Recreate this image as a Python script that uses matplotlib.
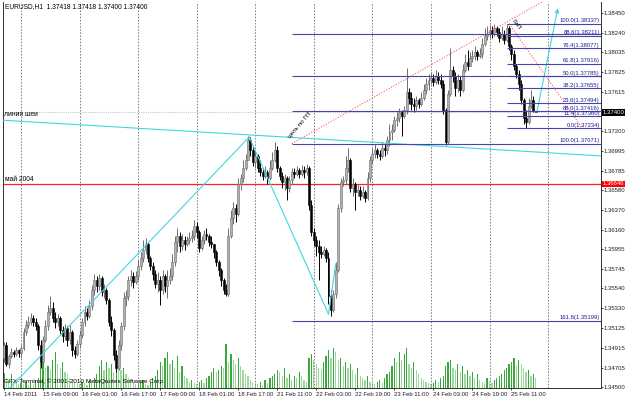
import matplotlib.pyplot as plt
import matplotlib.transforms as mtransforms

plt.rcParams['font.family'] = ['Liberation Sans', 'DejaVu Sans']

# EURUSD H1 candles (open of each bar = close of the bar before)
first_open = 1.3481
close = [1.3494, 1.3474, 1.3483, 1.3487, 1.3485, 1.3489, 1.3486, 1.3491, 1.3508, 1.3515,
         1.3519, 1.3523, 1.3519, 1.3514, 1.3494, 1.3476, 1.3500, 1.3514, 1.3529, 1.3533,
         1.3523, 1.3519, 1.3523, 1.3510, 1.3504, 1.3512, 1.3500, 1.3508, 1.3489, 1.3485,
         1.3495, 1.3505, 1.3519, 1.3529, 1.3525, 1.3536, 1.3552, 1.3563, 1.3557, 1.3565,
         1.3550, 1.3552, 1.3542, 1.3519, 1.3510, 1.3484, 1.3470, 1.3494, 1.3514, 1.3544,
         1.3546, 1.3563, 1.3567, 1.3561, 1.3567, 1.3578, 1.3586, 1.3595, 1.3601, 1.3586,
         1.3578, 1.3569, 1.3559, 1.3563, 1.3552, 1.3567, 1.3557, 1.3563, 1.3567, 1.3582,
         1.3603, 1.3609, 1.3599, 1.3605, 1.3601, 1.3605, 1.3607, 1.3609, 1.3620, 1.3614,
         1.3597, 1.3605, 1.3612, 1.3609, 1.3603, 1.3601, 1.3593, 1.3582, 1.3574, 1.3563,
         1.3552, 1.3548, 1.3609, 1.3628, 1.3639, 1.3633, 1.3664, 1.3671, 1.3681, 1.3690,
         1.3711, 1.3700, 1.3688, 1.3694, 1.3681, 1.3677, 1.3673, 1.3677, 1.3671, 1.3681,
         1.3690, 1.3700, 1.3681, 1.3673, 1.3666, 1.3671, 1.3660, 1.3669, 1.3677, 1.3675,
         1.3679, 1.3675, 1.3679, 1.3677, 1.3681, 1.3642, 1.3614, 1.3605, 1.3599, 1.3593,
         1.3590, 1.3595, 1.3586, 1.3546, 1.3531, 1.3548, 1.3574, 1.3639, 1.3666, 1.3669,
         1.3681, 1.3690, 1.3660, 1.3664, 1.3656, 1.3658, 1.3652, 1.3656, 1.3650, 1.3671,
         1.3690, 1.3696, 1.3700, 1.3696, 1.3694, 1.3702, 1.3700, 1.3711, 1.3719, 1.3721,
         1.3732, 1.3734, 1.3740, 1.3736, 1.3743, 1.3762, 1.3755, 1.3749, 1.3747, 1.3753,
         1.3749, 1.3755, 1.3764, 1.3770, 1.3774, 1.3776, 1.3772, 1.3778, 1.3774, 1.3770,
         1.3743, 1.3709, 1.3759, 1.3785, 1.3778, 1.3766, 1.3774, 1.3764, 1.3785, 1.3793,
         1.3789, 1.3797, 1.3800, 1.3804, 1.3800, 1.3802, 1.3812, 1.3821, 1.3823, 1.3827,
         1.3823, 1.3829, 1.3825, 1.3819, 1.3823, 1.3816, 1.3829, 1.3810, 1.3802, 1.3789,
         1.3781, 1.3770, 1.3753, 1.3734, 1.3730, 1.3747, 1.3753, 1.37418, 1.37400]
high = [1.3497, 1.3497, 1.3485, 1.3491, 1.3489, 1.3492, 1.3490, 1.3494, 1.3512, 1.3521,
        1.3525, 1.3528, 1.3526, 1.3523, 1.3517, 1.3500, 1.3504, 1.3521, 1.3537, 1.3546,
        1.3540, 1.3529, 1.3527, 1.3525, 1.3514, 1.3517, 1.3514, 1.3515, 1.3510, 1.3493,
        1.3500, 1.3510, 1.3523, 1.3536, 1.3533, 1.3542, 1.3558, 1.3569, 1.3567, 1.3569,
        1.3567, 1.3559, 1.3555, 1.3544, 1.3525, 1.3512, 1.3489, 1.3500, 1.3519, 1.3550,
        1.3552, 1.3567, 1.3574, 1.3571, 1.3572, 1.3584, 1.3593, 1.3605, 1.3607, 1.3603,
        1.3588, 1.3582, 1.3574, 1.3571, 1.3567, 1.3574, 1.3569, 1.3574, 1.3576, 1.3590,
        1.3609, 1.3618, 1.3614, 1.3612, 1.3609, 1.3609, 1.3614, 1.3616, 1.3626, 1.3624,
        1.3616, 1.3609, 1.3616, 1.3618, 1.3612, 1.3609, 1.3601, 1.3595, 1.3584, 1.3576,
        1.3565, 1.3559, 1.3618, 1.3637, 1.3645, 1.3643, 1.3671, 1.3675, 1.3690, 1.3696,
        1.3715, 1.3714, 1.3704, 1.3700, 1.3696, 1.3690, 1.3681, 1.3683, 1.3679, 1.3690,
        1.3698, 1.3709, 1.3704, 1.3683, 1.3677, 1.3675, 1.3673, 1.3673, 1.3681, 1.3681,
        1.3683, 1.3681, 1.3684, 1.3683, 1.3685, 1.3683, 1.3647, 1.3618, 1.3609, 1.3605,
        1.3599, 1.3599, 1.3597, 1.3593, 1.3552, 1.3552, 1.3582, 1.3643, 1.3671, 1.3673,
        1.3694, 1.3702, 1.3692, 1.3671, 1.3666, 1.3664, 1.3662, 1.3662, 1.3658, 1.3677,
        1.3694, 1.3702, 1.3707, 1.3702, 1.3700, 1.3709, 1.3707, 1.3715, 1.3728, 1.3728,
        1.3736, 1.3740, 1.3745, 1.3743, 1.3747, 1.3787, 1.3766, 1.3762, 1.3755, 1.3757,
        1.3755, 1.3762, 1.3770, 1.3776, 1.3781, 1.3783, 1.3781, 1.3785, 1.3783, 1.3781,
        1.3774, 1.3745, 1.3764, 1.3808, 1.3789, 1.3783, 1.3781, 1.3778, 1.3791, 1.3802,
        1.3806, 1.3804, 1.3806, 1.3810, 1.3806, 1.3808, 1.3819, 1.3829, 1.3831, 1.3832,
        1.3831, 1.3833, 1.3831, 1.3829, 1.3831, 1.3827, 1.38337, 1.3831, 1.3812, 1.3806,
        1.3791, 1.3785, 1.3774, 1.3755, 1.3743, 1.3755, 1.3764, 1.3757, 1.37418]
low = [1.3476, 1.3472, 1.3470, 1.3481, 1.3482, 1.3483, 1.3482, 1.3481, 1.3489, 1.3505,
       1.3512, 1.3515, 1.3514, 1.3510, 1.3489, 1.3470, 1.3474, 1.3497, 1.3510, 1.3526,
       1.3519, 1.3512, 1.3514, 1.3506, 1.3497, 1.3500, 1.3493, 1.3495, 1.3483, 1.3481,
       1.3483, 1.3491, 1.3502, 1.3514, 1.3521, 1.3523, 1.3531, 1.3547, 1.3550, 1.3552,
       1.3546, 1.3544, 1.3538, 1.3514, 1.3504, 1.3478, 1.3466, 1.3468, 1.3489, 1.3510,
       1.3536, 1.3542, 1.3557, 1.3555, 1.3559, 1.3563, 1.3574, 1.3582, 1.3590, 1.3582,
       1.3574, 1.3563, 1.3555, 1.3550, 1.3537, 1.3548, 1.3550, 1.3544, 1.3559, 1.3563,
       1.3578, 1.3593, 1.3593, 1.3595, 1.3595, 1.3599, 1.3601, 1.3603, 1.3605, 1.3607,
       1.3593, 1.3595, 1.3601, 1.3605, 1.3599, 1.3597, 1.3586, 1.3578, 1.3567, 1.3557,
       1.3548, 1.3546, 1.3546, 1.3607, 1.3622, 1.3624, 1.3631, 1.3658, 1.3666, 1.3679,
       1.3690, 1.3694, 1.3683, 1.3681, 1.3677, 1.3673, 1.3669, 1.3671, 1.3664, 1.3669,
       1.3679, 1.3688, 1.3677, 1.3669, 1.3660, 1.3658, 1.3647, 1.3656, 1.3664, 1.3671,
       1.3673, 1.3671, 1.3673, 1.3671, 1.3674, 1.3637, 1.3609, 1.3599, 1.3588, 1.3563,
       1.3586, 1.3588, 1.3582, 1.3538, 1.3525, 1.3529, 1.3544, 1.3571, 1.3635, 1.3662,
       1.3664, 1.3677, 1.3656, 1.3652, 1.3637, 1.3652, 1.3647, 1.3650, 1.3645, 1.3647,
       1.3666, 1.3685, 1.3692, 1.3692, 1.3690, 1.3692, 1.3694, 1.3696, 1.3704, 1.3711,
       1.3719, 1.3726, 1.3730, 1.3715, 1.3734, 1.3738, 1.3749, 1.3743, 1.3740, 1.3743,
       1.3745, 1.3747, 1.3753, 1.3759, 1.3764, 1.3770, 1.3768, 1.3770, 1.3770, 1.3766,
       1.3738, 1.3706, 1.3707, 1.3757, 1.3772, 1.3757, 1.3762, 1.3757, 1.3762, 1.3783,
       1.3785, 1.3789, 1.3793, 1.3795, 1.3795, 1.3797, 1.3797, 1.3810, 1.3816, 1.3819,
       1.3819, 1.3821, 1.3821, 1.3814, 1.3816, 1.3812, 1.3814, 1.3806, 1.3795, 1.3785,
       1.3776, 1.3764, 1.3749, 1.3728, 1.37234, 1.3728, 1.3745, 1.3740, 1.3740]
volume = [15, 10, 8, 14, 6, 5, 4,
          5, 4, 6, 3, 5, 4, 8, 10,
          25, 30, 20, 22, 18, 28, 36, 24, 20, 26, 16, 14,
          10, 8, 6, 5,
          4, 6, 5, 3, 8, 6, 10, 14,
          22, 28, 18, 26, 20, 24, 16, 30, 22, 18, 20, 14,
          10, 8, 6, 4,
          5, 6, 8, 4, 3, 6, 10, 12,
          18, 26, 22, 30, 36, 24, 28, 20, 32, 16, 22, 12,
          10, 6, 8, 5,
          4, 6, 8, 5, 10, 12, 16, 20,
          16, 18, 22, 20, 44, 26, 34, 28, 24, 30, 22, 18,
          14, 12, 8, 6,
          5, 4, 6, 3, 8, 5, 10, 12,
          14, 18, 16, 12, 20, 10, 14, 8, 12, 10, 16, 12,
          8, 6, 30, 34,
          28, 24, 20, 18, 26, 32, 38, 30,
          40, 36, 28, 30, 22, 26, 20, 24, 18, 14, 20, 12,
          10, 8, 12, 6,
          5, 4, 6, 8, 5, 10, 14, 16,
          22, 30, 26, 36, 28, 34, 40, 24, 20, 26, 18, 14,
          10, 8, 6, 5,
          4, 5, 8, 6, 10, 12, 22, 26,
          28, 20, 18, 24, 16, 22, 14, 18, 12, 16, 10, 14,
          8, 6, 5, 10,
          6, 5, 8, 10, 12, 14, 18, 20,
          24, 26, 30, 22, 28, 24, 20, 16, 18, 12, 14, 10]

time_labels = ['14 Feb 2011', '15 Feb 09:00', '16 Feb 01:00', '16 Feb 17:00', '17 Feb 09:00',
               '18 Feb 01:00', '18 Feb 17:00', '21 Feb 11:00', '22 Feb 03:00', '22 Feb 19:00',
               '23 Feb 11:00', '24 Feb 03:00', '24 Feb 19:00', '25 Feb 11:00']
time_label_bars = [0, 16, 32, 48, 64, 80, 96, 112, 128, 144, 160, 176, 192, 208]
day_start_bars = [7, 31, 55, 79, 103, 127, 151, 175, 199, 223]
price_ticks = [1.38450, 1.38240, 1.38035, 1.37825, 1.37615, 1.37200, 1.36995, 1.36785,
               1.36580, 1.36370, 1.36160, 1.35955, 1.35745, 1.35540, 1.35330, 1.35125,
               1.34915, 1.34705, 1.34500]
bid = 1.37400
may_2004 = 1.36646

# fibo from the 25 Feb top (short lines) and the older one (long lines)
fib_pct = ['100.0', '88.6', '76.4', '61.8', '50.0', '38.2', '23.6', '11.4', '0.0']
fib_price = [1.38337, 1.38211, 1.38077, 1.37916, 1.37785, 1.37655, 1.37494, 1.37360, 1.37234]
fib2_pct = ['61.8', '76.4', '88.6', '100.0', '161.8']
fib2_price = [1.38228, 1.37786, 1.37416, 1.37071, 1.35199]
fib2_labeled = ['88.6', '100.0', '161.8']

# hand drawn lines: (bar, price) pairs
neckline = [(-2, 1.3732), (245, 1.3694)]
trend_up = [(2.5, 1.3449), (100.5, 1.3714)]
drop_leg = [(100.5, 1.3714), (133, 1.3527)]
bounce_leg = [(133, 1.3527), (136, 1.3580)]
target_leg = [(218.4, 1.3740), (227, 1.3850)]
red_dots1 = [(118, 1.37071), (227, 1.3866)]
red_dots2 = [(207, 1.38337), (237, 1.37234)]

cyan = '#3fd7de'
fib_col = '#4646aa'
n = len(close)
bars = list(range(n))
opens = [first_open] + close[:-1]

fig = plt.figure(figsize=(6.25, 3.98), dpi=100)
fig.patch.set_facecolor('white')
ax = fig.add_axes([3 / 625, 10 / 398, 598 / 625, 386 / 398])
axv = ax.twinx()
ax.set_zorder(2)
ax.patch.set_visible(False)

# volumes
vcol = ['#3aa83a' if i == 0 or volume[i] >= volume[i - 1] else '#9fd89f' for i in bars]
axv.bar(bars, volume, width=0.5, color=vcol, linewidth=0)
axv.set_ylim(0, 386)
axv.axis('off')

# grid
for d in day_start_bars:
    ax.axvline(d, color='#808080', lw=0.7, ls=(0, (1.6, 1.6)), zorder=0)

# candles
for i in bars:
    up = close[i] >= opens[i]
    edge = '#6e6e6e' if up else 'black'
    ax.vlines(i, low[i], high[i], color=edge, lw=0.7, zorder=3)
    b0 = min(opens[i], close[i])
    h = max(abs(close[i] - opens[i]), 0.00004)
    ax.bar(i, h, bottom=b0, width=0.8, color='#b0b0b0' if up else 'black',
           edgecolor=edge, linewidth=0.4, zorder=4)

ax.axhline(bid, color='#c8c8c8', lw=0.8, ls=(0, (1, 1)), zorder=1)
ax.axhline(may_2004, color='#ff2020', lw=0.9, zorder=1)

for seg in [neckline, trend_up, drop_leg, bounce_leg]:
    ax.plot([p[0] for p in seg], [p[1] for p in seg], color=cyan, lw=0.8, zorder=5)
ax.annotate('', xy=target_leg[1], xytext=target_leg[0],
            arrowprops=dict(arrowstyle='-|>', color=cyan, lw=0.8, mutation_scale=6,
                            shrinkA=0, shrinkB=0), zorder=5)
for seg in [red_dots1, red_dots2]:
    ax.plot([p[0] for p in seg], [p[1] for p in seg], color='#ff5a5a', lw=0.8,
            ls=(0, (1, 1.5)), zorder=5)

ax.hlines(fib_price, 206, 245, color=fib_col, lw=0.8, zorder=5)
ax.hlines(fib2_price, 118, 245, color=fib_col, lw=0.8, zorder=5)
for pct, pr in zip(fib_pct, fib_price):
    ax.text(244.2, pr + 0.00003, f'{pct}({pr:.5f})', ha='right', va='bottom',
            fontsize=4.2, color='#1c1c9c', zorder=6)
for pct, pr in zip(fib2_pct, fib2_price):
    if pct in fib2_labeled:
        ax.text(244.2, pr + 0.00003, f'{pct}({pr:.5f})', ha='right', va='bottom',
                fontsize=4.2, color='#1c1c9c', zorder=6)

ax.text(-0.2, 1.37345, 'линия шеи', fontsize=4.8, va='bottom', zorder=6)
ax.text(0.3, may_2004 + 0.00008, 'май 2004', fontsize=4.8, va='bottom', zorder=6)
ax.text(117.5, 1.3712, 'цель по ГП', fontsize=4.6, rotation=49, rotation_mode='anchor',
        ha='left', va='bottom', zorder=6)
ax.text(207.5, 1.3836, 'ГиП', fontsize=4.6, rotation=-52, rotation_mode='anchor',
        ha='left', va='bottom', zorder=6)

ax.set_xlim(-0.41, 244.7)
ax.set_ylim(1.34489, 1.38566)

ax.yaxis.tick_right()
ax.set_yticks(price_ticks, [f'{p:.5f}' for p in price_ticks])
ax.set_xticks(time_label_bars, time_labels, ha='left')
ax.tick_params(axis='both', labelsize=4.3, length=1.5, width=0.6, pad=0.5, colors='#202020')
ax.tick_params(axis='x', pad=1.5)
for s in ['left', 'bottom', 'right']:
    ax.spines[s].set_color('#303030')
    ax.spines[s].set_linewidth(0.7)
ax.spines['top'].set_visible(False)

tr = mtransforms.blended_transform_factory(ax.transAxes, ax.transData)
ax.text(1.003, bid, '1.37400', transform=tr, fontsize=4.3, color='white', va='center',
        bbox=dict(facecolor='black', edgecolor='none', pad=0.5), zorder=7, clip_on=False)
ax.text(1.003, may_2004, '1.36646', transform=tr, fontsize=4.3, color='white', va='center',
        bbox=dict(facecolor='#ff0000', edgecolor='none', pad=0.5), zorder=7, clip_on=False)

fig.text(5 / 625, 1 - 7 / 398, 'EURUSD,H1  1.37418 1.37418 1.37400 1.37400', fontsize=4.8,
         va='center')
fig.text(4 / 625, 1 - 381 / 398, 'GFX-Terminal, © 2001-2010 MetaQuotes Software Corp.',
         fontsize=4.6, va='center', zorder=10)

fig.savefig('out.png', dpi=100, facecolor='white')
